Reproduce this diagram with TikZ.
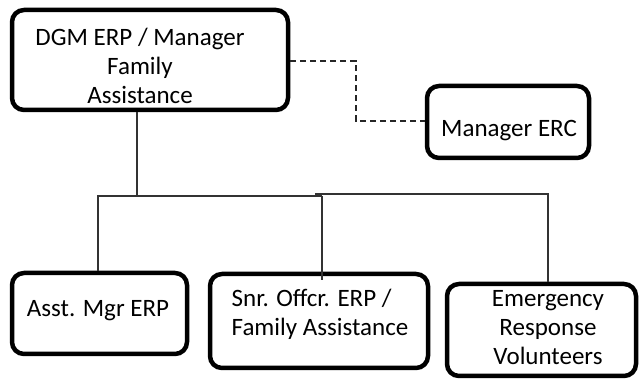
\documentclass[tikz,border=0pt]{standalone}
\usepackage{fontspec}
\setmainfont{Carlito}
\begin{document}
\begin{tikzpicture}[x=1pt,y=-1pt,
  box/.style={draw=black,line width=4.5pt,rounded corners=12pt,inner sep=0pt},
  lbl/.style={font=\fontsize{25}{29}\selectfont,inner sep=0pt,align=center},
  link/.style={draw=black!80,line width=1.2pt},
  dotlink/.style={draw=black!85,line width=1.6pt,dash pattern=on 6pt off 4pt}]
\useasboundingbox (0,0) rectangle (643,379);

% boxes
\node[box,minimum width=276pt,minimum height=100pt] (dgm) at (150,60) {};
\node[box,minimum width=162pt,minimum height=72pt] (erc) at (508,122) {};
\node[box,minimum width=175pt,minimum height=81pt] (asst) at (99.5,313.5) {};
\node[box,minimum width=218pt,minimum height=94pt] (snr) at (319,321) {};
\node[box,minimum width=189pt,minimum height=92pt] (emer) at (541.5,330) {};

% texts
\node[lbl] (tdgm) at (140,66) {DGM ERP / Manager\\Family\\Assistance};
\node[lbl,anchor=west] (terc) at (441,131) {Manager ERC};
\node[lbl] (tasst) at (98,311) {Asst. Mgr ERP};
\node[lbl,align=left] (tsnr) at (320,314) {Snr. Offcr. ERP /\\Family Assistance};
\node[lbl] (temer) at (548,328) {Emergency\\Response\\Volunteers};

% reporting lines
\coordinate (j) at (137,196);
\coordinate (busL) at (98,196);
\coordinate (busM) at (322,196);
\coordinate (busM2) at (315,194);
\coordinate (busR) at (548,194);
\coordinate (drop) at (322,280);
\draw[link] (j |- dgm.south) -- (j);
\draw[link] (busM) -- (busL) -- (busL |- asst.north);
\draw[link] (busM) -- (drop);
\draw[link] (busM2) -- (busR) -- (busR |- emer.north);

% dashed line relation
\coordinate (d1) at (356,61);
\coordinate (d2) at (356,121);
\draw[dotlink] (dgm.east |- d1) -- (d1) -- (d2) -- (erc.west |- d2);
\end{tikzpicture}
\end{document}
